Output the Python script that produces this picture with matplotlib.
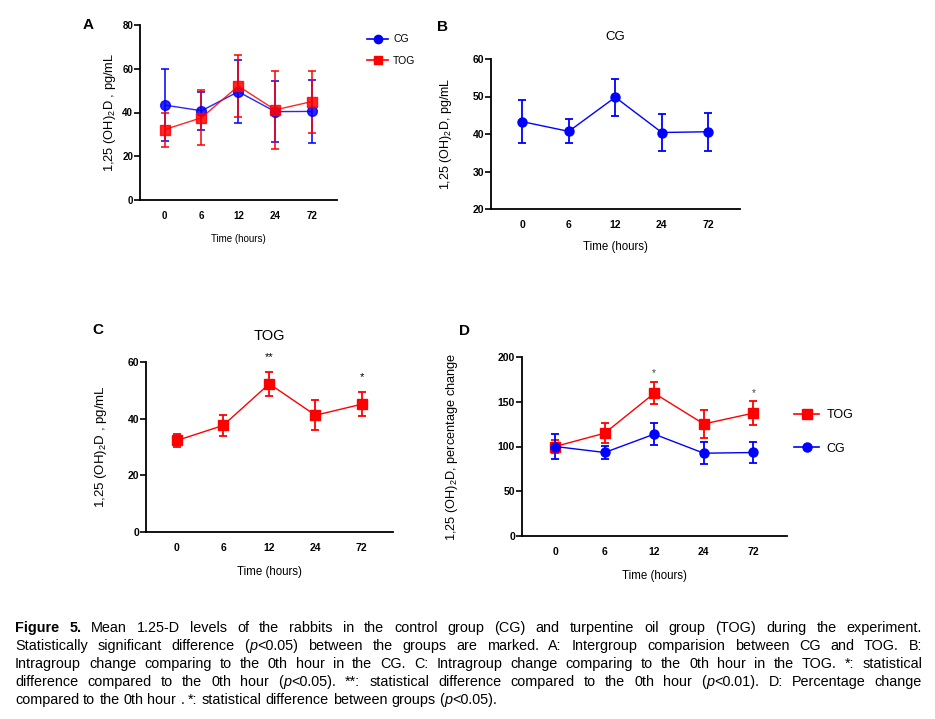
import re
import matplotlib
matplotlib.use('Agg')
import matplotlib.pyplot as plt
from matplotlib.lines import Line2D
import numpy as np

plt.rcParams['font.family'] = ['Liberation Sans', 'DejaVu Sans']
plt.rcParams['mathtext.fontset'] = 'custom'
plt.rcParams['mathtext.rm'] = 'Liberation Sans'
plt.rcParams['mathtext.it'] = 'Liberation Sans:italic'
plt.rcParams['mathtext.bf'] = 'Liberation Sans:bold'

# data
hours = ['0', '6', '12', '24', '72']

# A: intergroup, mean +/- SD
a_cg_mean = [43.4, 40.8, 49.5, 40.4, 40.5]
a_cg_err = [16.5, 8.8, 14.3, 14.1, 14.3]
a_tog_mean = [32.2, 37.6, 52.1, 41.2, 45.0]
a_tog_err = [7.8, 12.5, 14.1, 17.9, 14.2]

# B: CG, mean +/- SEM
b_cg_mean = [43.3, 40.7, 49.8, 40.4, 40.6]
b_cg_err = [5.8, 3.2, 5.0, 5.05, 5.1]

# C: TOG, mean +/- SEM
c_tog_mean = [32.3, 37.6, 52.3, 41.2, 45.1]
c_tog_err = [2.35, 3.65, 4.25, 5.3, 4.3]
c_marks = {2: ('**', 61.8), 4: ('*', 54.7)}

# D: percentage change
d_tog_mean = [100, 114.9, 159.5, 125.2, 137.3]
d_tog_err = [7.5, 11.0, 12.5, 16.0, 13.0]
d_cg_mean = [100, 93.3, 113.8, 92.5, 93.3]
d_cg_err = [13.5, 7.3, 12.0, 12.3, 12.2]
d_marks = {2: ('*', 182), 4: ('*', 160)}

caption = [
    "!Figure !5. Mean 1.25-D levels of the rabbits in the control group (CG) and turpentine oil group (TOG) during the experiment.",
    "Statistically significant difference ({p}<0.05) between the groups are marked. A: Intergroup comparision between CG and TOG. B:",
    "Intragroup change comparing to the 0th hour in the CG. C: Intragroup change comparing to the 0th hour in the TOG. *: statistical",
    "difference compared to the 0th hour ({p}<0.05). **: statistical difference compared to the 0th hour ({p}<0.01). D: Percentage change",
    "compared to the 0th hour . *: statistical difference between groups ({p}<0.05).",
]

BLUE = '#0000ff'
RED = '#ff0000'
W, H = 935, 719

fig = plt.figure(figsize=(W / 100, H / 100), dpi=100)


def px_axes(l, t, r, b):
    return fig.add_axes([l / W, 1 - b / H, (r - l) / W, (b - t) / H])


def style(ax, ylim, yticks, tsize):
    x = np.arange(len(hours))
    ax.set_xlim(-0.67, 4.68)
    ax.set_ylim(*ylim)
    ax.set_yticks(yticks)
    ax.set_xticks(x)
    ax.set_xticklabels(hours)
    for s in ['top', 'right']:
        ax.spines[s].set_visible(False)
    for s in ['left', 'bottom']:
        ax.spines[s].set_linewidth(1.3)
    ax.tick_params(axis='y', length=4, width=1.2, labelsize=tsize, pad=1)
    ax.tick_params(axis='x', length=0, labelsize=tsize, pad=8)
    for lab in ax.get_xticklabels() + ax.get_yticklabels():
        lab.set_fontweight('bold')


def series(ax, mean, err, color, marker, ms=6.5, alpha=1.0):
    x = np.arange(len(mean))
    ax.errorbar(x, mean, yerr=err, color=color, marker=marker, ms=ms, lw=1.0,
                elinewidth=1.3, capsize=3, capthick=1.3, alpha=alpha,
                clip_on=False, zorder=3)


def handle(color, marker, ms):
    return Line2D([], [], color=color, marker=marker, ms=ms, lw=1.2)


ylab = r'1,25 (OH)$_2$D , pg/mL'

# ---- A
axA = px_axes(140, 25, 337, 200)
series(axA, a_cg_mean, a_cg_err, BLUE, 'o', ms=7, alpha=0.85)
series(axA, a_tog_mean, a_tog_err, RED, 's', ms=7, alpha=0.85)
style(axA, (0, 80), [0, 20, 40, 60, 80], 7)
axA.set_ylabel(ylab, fontsize=9.3, labelpad=3)
axA.set_xlabel('Time (hours)', fontsize=7, labelpad=9)
axA.legend([handle(BLUE, 'o', 6), handle(RED, 's', 6)], ['CG', 'TOG'],
           loc='upper left', bbox_to_anchor=(362 / W, 1 - 29 / H), bbox_transform=fig.transFigure,
           frameon=False, fontsize=7.5, handlelength=2.0, labelspacing=1.1, borderpad=0,
           handletextpad=0.5)
fig.text(88 / W, 1 - 25 / H, 'A', fontsize=11, fontweight='bold', ha='center', va='center')

# ---- B
axB = px_axes(491, 59, 740, 209)
series(axB, b_cg_mean, b_cg_err, BLUE, 'o', ms=6.5)
style(axB, (20, 60), [20, 30, 40, 50, 60], 7.5)
axB.set_ylabel(r'1,25 (OH)$_2$D, pg/mL', fontsize=9, labelpad=13)
axB.set_xlabel('Time (hours)', fontsize=8.3, labelpad=8)
axB.set_title('CG', fontsize=9.5, pad=14)
fig.text(443 / W, 1 - 27 / H, 'B', fontsize=11, fontweight='bold', ha='center', va='center')

# ---- C
axC = px_axes(146, 362, 393, 532)
series(axC, c_tog_mean, c_tog_err, RED, 's', ms=6.5)
style(axC, (0, 60), [0, 20, 40, 60], 7.5)
axC.set_ylabel(ylab, fontsize=9.5, labelpad=13)
axC.set_xlabel('Time (hours)', fontsize=8.3, labelpad=9)
axC.set_title('TOG', fontsize=10.5, pad=16)
for k, (s, yv) in c_marks.items():
    axC.text(k, yv, s, ha='center', va='center', fontsize=8)
fig.text(98 / W, 1 - 330 / H, 'C', fontsize=11, fontweight='bold', ha='center', va='center')

# ---- D
axD = px_axes(522, 357, 787, 536)
series(axD, d_tog_mean, d_tog_err, RED, 's', ms=6.5)
series(axD, d_cg_mean, d_cg_err, BLUE, 'o', ms=6.5)
style(axD, (0, 200), [0, 50, 100, 150, 200], 7.5)
axD.set_ylabel(r'1,25 (OH)$_2$D, percentage change', fontsize=9.2, labelpad=27)
axD.set_xlabel('Time (hours)', fontsize=8.3, labelpad=9)
for k, (s, yv) in d_marks.items():
    axD.text(k, yv, s, ha='center', va='center', fontsize=7, color='#444444')
axD.legend([handle(RED, 's', 6.5), handle(BLUE, 'o', 6.5)], ['TOG', 'CG'],
           loc='upper left', bbox_to_anchor=(788 / W, 1 - 403 / H), bbox_transform=fig.transFigure,
           frameon=False, fontsize=9, handlelength=2.0, labelspacing=1.7, borderpad=0,
           handletextpad=0.6)
fig.text(465 / W, 1 - 331 / H, 'D', fontsize=11, fontweight='bold', ha='center', va='center')

# ---- caption, justified word by word
renderer = fig.canvas.get_renderer()
cap_size = 10.4
x_left, x_right = 15, 922
y0, dy = 628, 18


def seg_list(word):
    bold = word.startswith('!')
    if bold:
        word = word[1:]
    out = []
    for part in re.split(r'(\{p\})', word):
        if not part:
            continue
        if part == '{p}':
            out.append(('p', 'normal', 'italic'))
        else:
            out.append((part, 'bold' if bold else 'normal', 'normal'))
    return out


def width(t):
    return t.get_window_extent(renderer).width


probe1 = fig.text(0, 0, 'a a', fontsize=cap_size)
probe2 = fig.text(0, 0, 'aa', fontsize=cap_size)
space = width(probe1) - width(probe2)
probe1.remove()
probe2.remove()

for i, line in enumerate(caption):
    words = [seg_list(w) for w in line.split(' ')]
    y = 1 - (y0 + i * dy) / H
    texts = []
    total = 0
    for w in words:
        row = []
        for s, wt, st in w:
            t = fig.text(0, y, s, fontsize=cap_size, fontweight=wt, fontstyle=st, va='center', ha='left')
            row.append(t)
            total += width(t)
        texts.append(row)
    if i == len(caption) - 1:
        gap = space
    else:
        gap = (x_right - x_left - total) / (len(words) - 1)
    x = x_left
    for row in texts:
        for t in row:
            t.set_x(x / W)
            x += width(t)
        x += gap

fig.savefig('out.png', dpi=100)
